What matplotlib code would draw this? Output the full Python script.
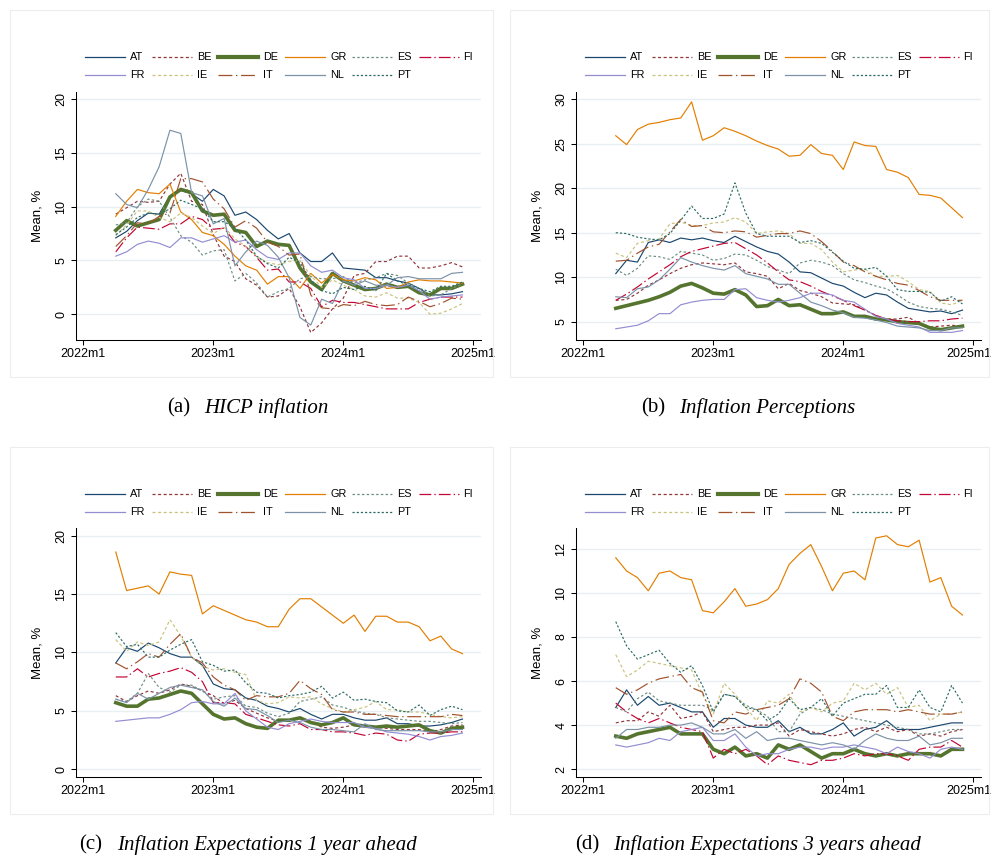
import matplotlib
matplotlib.use("Agg")
import matplotlib.pyplot as plt
from matplotlib.lines import Line2D
from matplotlib.patches import Rectangle
from matplotlib.transforms import ScaledTranslation

plt.rcParams["font.family"] = ["Liberation Sans", "DejaVu Sans"]
plt.rcParams["lines.scale_dashes"] = False

# ---------------------------------------------------------------- data
countries = ["AT", "BE", "DE", "GR", "ES", "FI", "FR", "IE", "IT", "NL", "PT"]
# months counted from 2022m1 = 0; observations run 2022m4 ... 2024m12
months = list(range(3, 36))
tick_pos = [0, 12, 24, 36]
tick_labels = ["2022m1", "2023m1", "2024m1", "2025m1"]

hicp = {
    "AT": [7.1, 7.7, 8.7, 9.4, 9.3, 11.0, 11.5, 11.2, 10.5, 11.6, 11.0, 9.2, 9.5, 8.8, 7.8, 7.0, 7.5,
           5.7, 4.9, 4.9, 5.7, 4.3, 4.2, 4.1, 3.4, 3.4, 3.1, 2.9, 2.4, 1.8, 1.8, 1.9, 2.1],
    "BE": [9.3, 9.9, 10.5, 10.4, 10.5, 12.1, 13.1, 10.5, 10.2, 7.4, 5.4, 4.9, 3.3, 2.7, 1.6, 1.7, 2.4,
           0.7, -1.7, -0.8, 0.5, 1.5, 3.6, 3.8, 4.9, 4.9, 5.4, 5.4, 4.3, 4.3, 4.5, 4.8, 4.4],
    "DE": [7.8, 8.7, 8.2, 8.5, 8.8, 10.9, 11.6, 11.3, 9.6, 9.2, 9.3, 7.8, 7.6, 6.3, 6.8, 6.5, 6.4,
           4.3, 3.0, 2.3, 3.8, 3.1, 2.7, 2.3, 2.4, 2.8, 2.5, 2.6, 2.0, 1.8, 2.4, 2.4, 2.8],
    "GR": [9.1, 10.5, 11.6, 11.3, 11.2, 12.1, 9.5, 8.8, 7.6, 7.3, 6.5, 5.4, 4.5, 4.1, 2.8, 3.5, 3.5,
           2.4, 3.8, 2.9, 3.7, 3.2, 3.1, 3.4, 3.2, 2.4, 2.5, 3.0, 3.2, 3.1, 3.1, 3.0, 2.9],
    "ES": [8.3, 8.5, 10.0, 10.7, 10.5, 9.0, 7.3, 6.7, 5.5, 5.9, 6.0, 3.1, 3.8, 2.9, 1.6, 2.1, 2.4,
           3.3, 3.5, 3.3, 3.3, 3.5, 2.9, 3.2, 3.4, 3.8, 3.6, 2.9, 2.4, 1.7, 1.8, 2.4, 2.8],
    "FI": [5.8, 7.1, 8.1, 8.0, 7.9, 8.4, 8.4, 9.1, 8.8, 7.9, 8.0, 6.7, 6.3, 5.3, 4.1, 4.2, 3.0,
           3.0, 2.4, 0.7, 1.3, 1.1, 1.1, 0.9, 0.7, 0.5, 0.5, 0.5, 1.1, 1.4, 1.6, 1.6, 1.6],
    "FR": [5.4, 5.8, 6.5, 6.8, 6.6, 6.2, 7.1, 7.1, 6.7, 7.0, 7.3, 6.7, 6.9, 6.0, 5.3, 5.1, 5.7,
           5.7, 4.5, 3.9, 4.1, 3.4, 3.2, 2.4, 2.4, 2.7, 2.5, 2.7, 2.2, 1.4, 1.6, 1.7, 1.8],
    "IE": [7.3, 8.3, 9.6, 9.6, 9.0, 8.6, 9.4, 9.0, 8.2, 7.5, 8.1, 7.0, 6.3, 5.4, 4.8, 4.6, 4.9,
           5.0, 3.6, 2.5, 3.2, 2.7, 2.3, 1.7, 1.6, 2.0, 1.5, 1.5, 1.1, 0.0, 0.1, 0.5, 1.0],
    "IT": [6.3, 7.3, 8.5, 8.4, 9.1, 9.4, 12.6, 12.6, 12.3, 10.7, 9.8, 8.1, 8.7, 8.0, 6.7, 6.3, 5.5,
           5.6, 1.8, 0.6, 0.5, 0.9, 0.8, 1.2, 0.9, 0.8, 0.9, 1.6, 1.2, 0.7, 1.0, 1.5, 1.4],
    "NL": [11.2, 10.2, 9.9, 11.6, 13.7, 17.1, 16.8, 11.3, 11.0, 8.4, 8.9, 4.5, 5.8, 6.8, 6.4, 5.3, 3.4,
           -0.3, -1.0, 1.4, 1.0, 3.1, 2.7, 3.1, 2.7, 2.7, 3.4, 3.5, 3.3, 3.3, 3.3, 3.8, 3.9],
    "PT": [7.4, 8.1, 9.0, 9.4, 9.3, 9.8, 10.6, 10.2, 9.8, 8.6, 8.6, 8.0, 6.9, 5.4, 4.7, 4.3, 5.3,
           4.8, 3.2, 2.2, 1.9, 2.5, 2.3, 2.6, 2.2, 3.8, 3.1, 2.7, 2.4, 2.1, 2.6, 2.6, 3.0],
}

perceptions = {
    "AT": [10.4, 11.9, 11.7, 13.9, 14.2, 13.9, 14.4, 14.2, 14.4, 14.1, 13.9, 14.6, 14.0, 13.4, 12.9, 12.6, 11.7,
           10.6, 10.5, 9.9, 9.3, 9.0, 8.3, 7.7, 8.2, 8.0, 7.2, 6.5, 6.3, 6.1, 6.2, 5.9, 6.3],
    "BE": [7.4, 7.5, 8.2, 9.1, 9.7, 10.4, 11.0, 11.4, 11.6, 11.5, 11.4, 11.6, 10.6, 10.4, 10.1, 8.7, 9.3,
           8.5, 8.2, 7.8, 7.1, 7.0, 6.9, 6.3, 5.7, 5.3, 5.3, 5.5, 4.8, 4.4, 4.5, 4.6, 4.5],
    "DE": [6.5, 6.8, 7.1, 7.4, 7.8, 8.3, 9.0, 9.3, 8.8, 8.2, 8.1, 8.6, 8.0, 6.7, 6.8, 7.5, 6.8,
           6.9, 6.4, 5.9, 5.9, 6.1, 5.6, 5.6, 5.3, 5.2, 5.0, 4.9, 4.8, 4.3, 4.1, 4.3, 4.5],
    "GR": [25.9, 24.9, 26.6, 27.2, 27.4, 27.7, 27.9, 29.7, 25.4, 25.9, 26.8, 26.4, 25.9, 25.3, 24.8, 24.4, 23.6,
           23.7, 24.9, 23.9, 23.7, 22.1, 25.2, 24.8, 24.7, 22.1, 21.8, 21.2, 19.3, 19.2, 18.9, 17.8, 16.7],
    "ES": [10.9, 10.2, 11.0, 12.4, 12.3, 12.0, 12.9, 12.7, 12.5, 11.9, 12.1, 12.6, 12.5, 11.9, 11.2, 10.8, 10.4,
           11.6, 11.9, 11.7, 11.3, 10.4, 9.7, 9.4, 9.0, 8.7, 8.0, 7.2, 6.7, 6.5, 6.4, 6.1, 5.7],
    "FI": [7.4, 8.1, 8.9, 9.8, 10.6, 11.4, 12.3, 12.9, 13.2, 13.5, 13.8, 13.9, 13.2, 12.5, 11.6, 10.6, 9.7,
           9.5, 9.0, 8.4, 7.9, 7.4, 6.8, 6.3, 5.7, 5.3, 5.1, 5.0, 5.0, 5.1, 5.1, 5.3, 5.4],
    "FR": [4.2, 4.4, 4.6, 5.1, 5.9, 5.9, 6.9, 7.2, 7.4, 7.5, 7.5, 8.6, 8.7, 7.7, 7.4, 7.2, 7.4,
           7.7, 8.2, 8.2, 8.0, 7.4, 7.2, 6.4, 5.6, 5.3, 4.8, 4.6, 4.4, 3.8, 3.8, 3.8, 4.0],
    "IE": [12.7, 12.2, 13.8, 14.1, 14.3, 16.0, 16.2, 15.8, 15.8, 16.1, 16.2, 16.7, 16.2, 14.9, 15.1, 15.2, 14.9,
           13.8, 13.8, 13.1, 11.7, 10.6, 10.8, 10.9, 10.1, 10.1, 10.2, 9.5, 8.6, 8.4, 7.1, 6.9, 7.4],
    "IT": [11.8, 11.9, 12.7, 13.4, 13.7, 15.1, 16.5, 15.7, 15.8, 15.1, 15.0, 15.2, 15.1, 14.5, 14.7, 14.9, 14.9,
           15.2, 14.9, 14.0, 12.9, 11.7, 11.3, 10.6, 10.1, 9.7, 9.3, 9.1, 8.5, 7.8, 7.4, 7.4, 7.4],
    "NL": [7.8, 7.7, 8.7, 8.9, 9.7, 10.9, 12.2, 11.7, 11.3, 11.0, 10.8, 11.3, 10.4, 10.1, 9.8, 9.2, 9.2,
           8.2, 7.2, 6.8, 6.3, 6.0, 5.5, 5.4, 5.2, 4.9, 4.5, 4.4, 4.3, 4.0, 4.0, 4.3, 4.3],
    "PT": [15.0, 14.9, 14.5, 14.3, 14.2, 14.9, 16.4, 18.0, 16.6, 16.6, 17.1, 20.6, 17.2, 14.9, 14.6, 14.6, 14.6,
           13.9, 14.1, 13.8, 12.8, 11.8, 11.0, 10.9, 11.1, 10.1, 8.6, 8.4, 8.4, 8.3, 7.3, 7.8, 7.0],
}

expect_1y = {
    "AT": [9.1, 10.4, 10.1, 10.8, 10.4, 9.9, 9.6, 9.6, 8.9, 7.3, 6.9, 6.8, 6.1, 5.9, 5.4, 5.2, 4.9,
           5.2, 4.7, 4.3, 4.7, 4.7, 4.4, 4.2, 4.2, 4.4, 3.9, 3.9, 3.7, 3.7, 3.8, 4.0, 4.3],
    "BE": [6.3, 5.8, 6.3, 6.7, 6.5, 6.8, 7.3, 7.1, 6.7, 6.3, 5.6, 5.9, 5.2, 4.8, 4.4, 4.1, 4.1,
           4.4, 4.1, 3.6, 3.5, 3.6, 3.8, 3.7, 3.6, 3.5, 3.4, 3.4, 3.4, 3.2, 3.4, 3.7, 3.8],
    "DE": [5.7, 5.4, 5.4, 6.0, 6.1, 6.4, 6.7, 6.5, 5.6, 4.7, 4.3, 4.4, 3.9, 3.6, 3.5, 4.2, 4.2,
           4.4, 4.0, 3.8, 4.0, 4.4, 3.8, 3.7, 3.6, 3.7, 3.6, 3.7, 3.8, 3.3, 3.1, 3.5, 3.6],
    "GR": [18.6, 15.3, 15.5, 15.7, 15.0, 16.9, 16.7, 16.6, 13.3, 14.0, 13.6, 13.2, 12.8, 12.6, 12.2, 12.2, 13.7,
           14.6, 14.6, 13.9, 13.2, 12.5, 13.2, 11.8, 13.1, 13.1, 12.6, 12.6, 12.2, 11.0, 11.4, 10.3, 9.9],
    "ES": [6.0, 5.8, 6.5, 8.2, 7.0, 6.6, 7.2, 7.2, 6.7, 6.0, 6.2, 6.3, 5.4, 5.3, 4.8, 4.5, 4.8,
           5.8, 6.0, 6.2, 5.5, 5.3, 5.0, 4.8, 4.7, 4.4, 4.3, 4.2, 4.1, 4.1, 4.0, 3.9, 4.0],
    "FI": [7.9, 7.9, 8.6, 7.9, 8.2, 8.4, 8.7, 8.3, 7.5, 5.7, 5.7, 5.6, 4.7, 4.4, 4.1, 3.8, 3.7,
           3.9, 3.4, 3.4, 3.2, 3.2, 3.1, 2.9, 3.1, 3.0, 2.5, 2.4, 3.0, 3.1, 3.1, 3.2, 3.2],
    "FR": [4.1, 4.2, 4.3, 4.4, 4.4, 4.7, 5.1, 5.7, 5.8, 5.6, 5.6, 6.5, 5.0, 4.3, 3.6, 3.4, 3.9,
           4.1, 4.3, 4.1, 4.0, 4.0, 4.0, 3.6, 3.5, 3.2, 3.1, 3.0, 2.8, 2.5, 2.8, 2.9, 3.1],
    "IE": [11.1, 10.1, 10.9, 10.6, 10.9, 12.8, 11.4, 9.6, 8.8, 8.5, 8.6, 8.3, 8.1, 5.9, 5.6, 5.7, 6.2,
           6.1, 6.2, 5.6, 5.2, 4.9, 5.1, 5.3, 5.8, 5.1, 5.1, 4.9, 4.9, 4.7, 4.5, 4.4, 4.5],
    "IT": [9.1, 8.6, 9.2, 9.9, 9.6, 10.7, 11.6, 9.6, 9.1, 7.9, 7.2, 6.8, 5.9, 6.3, 6.2, 6.2, 6.5,
           7.6, 6.9, 6.4, 5.1, 4.9, 4.9, 4.7, 4.7, 4.6, 4.5, 4.5, 4.5, 4.5, 4.5, 4.7, 4.6],
    "NL": [6.0, 5.7, 6.5, 6.0, 6.5, 7.0, 7.2, 7.0, 6.8, 5.8, 5.4, 6.1, 5.2, 5.1, 4.6, 4.0, 4.2,
           4.0, 3.6, 3.4, 3.4, 3.3, 3.2, 3.9, 3.4, 3.3, 3.3, 3.3, 3.3, 3.2, 3.2, 3.4, 3.4],
    "PT": [11.7, 10.5, 10.7, 9.6, 9.6, 10.2, 10.7, 11.1, 9.2, 8.9, 8.4, 8.5, 7.4, 6.6, 6.5, 6.1, 6.3,
           6.4, 6.6, 7.1, 6.1, 6.6, 5.9, 6.0, 5.8, 5.7, 5.0, 4.9, 5.5, 4.6, 5.1, 5.4, 5.1],
}

expect_3y = {
    "AT": [4.8, 5.6, 4.9, 5.3, 4.9, 5.0, 4.8, 4.6, 4.6, 3.9, 4.3, 4.3, 4.0, 3.9, 3.9, 4.2, 3.7,
           3.9, 3.6, 3.6, 3.8, 4.1, 3.5, 3.8, 3.9, 4.2, 3.8, 3.8, 3.8, 3.9, 4.0, 4.1, 4.1],
    "BE": [4.1, 4.2, 4.2, 4.6, 4.4, 4.9, 4.3, 4.4, 4.6, 3.7, 3.8, 3.9, 3.9, 4.0, 4.0, 4.1, 3.5,
           3.8, 3.7, 3.6, 3.5, 3.6, 3.8, 3.9, 3.7, 3.9, 3.7, 3.8, 3.5, 3.6, 3.5, 3.7, 3.8],
    "DE": [3.5, 3.4, 3.6, 3.7, 3.8, 3.9, 3.6, 3.6, 3.6, 2.9, 2.7, 3.0, 2.6, 2.7, 2.5, 3.1, 2.9,
           3.1, 2.8, 2.5, 2.7, 2.7, 2.9, 2.7, 2.6, 2.7, 2.6, 2.7, 2.7, 2.7, 2.6, 2.9, 2.9],
    "GR": [11.6, 11.0, 10.7, 10.1, 10.9, 11.0, 10.7, 10.6, 9.2, 9.1, 9.6, 10.2, 9.4, 9.5, 9.7, 10.2, 11.3,
           11.8, 12.2, 11.2, 10.1, 10.9, 11.0, 10.6, 12.5, 12.6, 12.2, 12.1, 12.4, 10.5, 10.7, 9.4, 9.0],
    "ES": [4.8, 4.6, 5.2, 5.5, 5.1, 5.0, 4.9, 4.9, 4.9, 4.7, 5.4, 5.3, 4.9, 4.7, 4.4, 3.7, 3.7,
           4.5, 4.8, 4.7, 4.5, 4.4, 4.3, 4.2, 4.1, 4.0, 3.9, 3.8, 3.6, 3.6, 3.7, 3.8, 3.8],
    "FI": [5.0, 4.6, 4.3, 4.1, 4.3, 4.1, 3.9, 3.8, 3.7, 2.5, 2.9, 2.7, 2.9, 2.6, 2.2, 2.6, 2.4,
           2.3, 2.2, 2.4, 2.4, 2.5, 2.7, 2.6, 2.7, 2.7, 2.6, 2.4, 2.9, 3.0, 3.0, 3.3, 3.0],
    "FR": [3.1, 3.0, 3.1, 3.2, 3.4, 3.3, 3.7, 3.8, 3.9, 3.3, 3.3, 3.6, 3.0, 2.6, 2.7, 2.7, 2.9,
           3.0, 3.0, 2.9, 3.0, 3.0, 3.1, 3.0, 2.9, 2.7, 3.0, 2.8, 2.7, 2.5, 2.9, 3.0, 2.9],
    "IE": [7.2, 6.2, 6.5, 6.9, 6.8, 6.7, 6.6, 6.5, 5.4, 4.5, 5.9, 5.4, 4.8, 4.2, 5.1, 5.0, 5.4,
           4.6, 4.8, 4.6, 5.0, 5.1, 5.9, 5.6, 5.9, 5.4, 5.7, 4.8, 4.9, 4.2, 4.5, 4.5, 4.6],
    "IT": [5.7, 5.4, 5.6, 5.9, 6.1, 6.2, 6.3, 5.7, 5.5, 4.2, 4.1, 4.6, 4.5, 4.7, 4.8, 4.9, 5.2,
           6.1, 5.9, 5.5, 4.4, 4.2, 4.6, 4.7, 4.7, 4.7, 4.6, 4.7, 4.6, 4.5, 4.5, 4.5, 4.6],
    "NL": [3.4, 3.8, 3.8, 3.9, 3.9, 4.0, 4.0, 4.1, 3.9, 3.6, 3.6, 3.8, 3.4, 3.7, 3.3, 3.4, 3.4,
           3.3, 3.2, 3.1, 3.2, 3.1, 2.9, 3.3, 3.6, 3.4, 3.3, 3.3, 3.5, 3.1, 3.2, 3.4, 3.4],
    "PT": [8.7, 7.6, 7.0, 7.2, 7.4, 6.8, 6.4, 6.7, 5.8, 4.6, 5.4, 5.3, 4.8, 4.7, 4.2, 4.5, 5.2,
           4.7, 4.8, 5.2, 4.4, 5.0, 5.2, 5.4, 5.4, 5.8, 4.8, 4.8, 5.6, 4.8, 4.6, 5.8, 5.0],
}

# ---------------------------------------------------------------- styling
colors = {
    "AT": "#1a476f", "BE": "#90353b", "DE": "#55752f", "GR": "#e37e00",
    "ES": "#6e8e84", "FI": "#c10534", "FR": "#938dd2", "IE": "#cac27e",
    "IT": "#a0522d", "NL": "#7b92a8", "PT": "#2d6d66",
}
dashes = {
    "AT": "-", "BE": (0, (2.2, 1.8)), "DE": "-", "GR": "-",
    "ES": (0, (1.8, 1.6)), "FI": (0, (8.5, 2.2, 1.0, 2.2)), "FR": "-",
    "IE": (0, (2.2, 1.8)), "IT": (0, (10.0, 2.6, 1.0, 2.6)), "NL": "-",
    "PT": (0, (1.6, 1.4)),
}
widths = {c: 0.85 for c in countries}
widths["DE"] = 2.6

W, H = 993, 858
fig = plt.figure(figsize=(W / 100, H / 100), dpi=100)
fig.patch.set_facecolor("white")


def fx(px):
    return px / W


def fy(py):
    return 1 - py / H


panels = [
    # data, y limits, y ticks, x offset, y offset, tag, caption
    (hicp, (-2.39, 20.68), [0, 5, 10, 15, 20], 0, 0, "(a)", "HICP inflation"),
    (perceptions, (2.94, 30.85), [5, 10, 15, 20, 25, 30], 500, 0, "(b)", "Inflation Perceptions"),
    (expect_1y, (-0.63, 20.63), [0, 5, 10, 15, 20], 0, 436.6, "(c)", "Inflation Expectations 1 year ahead"),
    (expect_3y, (1.66, 12.94), [2, 4, 6, 8, 10, 12], 500, 436.6, "(d)", "Inflation Expectations 3 years ahead"),
]

legend_rows = [["AT", "BE", "DE", "GR", "ES", "FI"], ["FR", "IE", "IT", "NL", "PT"]]
frame_color = "#ededed"
grid_color = "#e7eff1"

renderer = fig.canvas.get_renderer()

for data, ylim, yticks, ox, oy, tag, caption in panels:
    # faint outer frame of the graph region
    right_edge = 493 if ox == 0 else 989
    fig.add_artist(Rectangle((fx(ox + 10), fy(oy + 377)), fx(right_edge - (ox + 10)), 367 / H,
                             transform=fig.transFigure, fill=False, edgecolor=frame_color, lw=0.8))

    left, top, width, height = ox + 76, oy + 91.7, 405, 248.3
    ax = fig.add_axes([fx(left), fy(top + height), fx(width), height / H])
    for c in countries:
        ax.plot(months, data[c], color=colors[c], lw=widths[c], linestyle=dashes[c],
                solid_joinstyle="round", dash_joinstyle="round", zorder=3)

    ax.set_xlim(-0.67, 36.71)
    ax.set_ylim(*ylim)
    ax.set_xticks(tick_pos)
    ax.set_xticklabels(tick_labels, fontsize=9)
    ax.set_yticks(yticks)
    ax.set_yticklabels([str(t) for t in yticks], fontsize=9, rotation=90, va="center")
    ax.tick_params(direction="out", length=3.6, width=0.75, pad=2.5)
    ax.yaxis.grid(True, color=grid_color, lw=1.0, zorder=0)
    ax.set_axisbelow(True)
    for s in ("top", "right"):
        ax.spines[s].set_visible(False)
    for s in ("left", "bottom"):
        ax.spines[s].set_linewidth(0.75)
    ax.set_ylabel("Mean, %", fontsize=9.5)
    ax.yaxis.set_label_coords(-0.081, 0.5)

    if ox > 0:
        # keep the last date label inside the figure's right edge
        last = ax.get_xticklabels()[-1]
        last.set_transform(last.get_transform() + ScaledTranslation(-4 / 100, 0, fig.dpi_scale_trans))

    # legend: six columns, two rows
    for r, row in enumerate(legend_rows):
        ly = oy + 57.3 + r * 17.7
        for k, c in enumerate(row):
            lx = ox + 85 + k * 66.7
            fig.add_artist(Line2D([fx(lx), fx(lx + 40)], [fy(ly), fy(ly)], transform=fig.transFigure,
                                  color=colors[c], lw=max(widths[c], 0.9) if c != "DE" else 3.0,
                                  linestyle=dashes[c]))
            fig.text(fx(lx + 45), fy(ly), c, fontsize=7.8, va="center", ha="left")

    # caption below the graph
    cy = oy + 408
    cx = ox + 248
    t1 = fig.text(0, fy(cy), tag, family="Liberation Serif", fontsize=15, va="center", ha="left")
    t2 = fig.text(0, fy(cy), caption, family="Liberation Serif", style="italic", fontsize=15,
                  va="center", ha="left")
    w1 = t1.get_window_extent(renderer).width
    w2 = t2.get_window_extent(renderer).width
    gap = 14
    start = cx - (w1 + gap + w2) / 2
    t1.set_x(fx(start))
    t2.set_x(fx(start + w1 + gap))

fig.savefig("out.png", dpi=100, facecolor="white")
